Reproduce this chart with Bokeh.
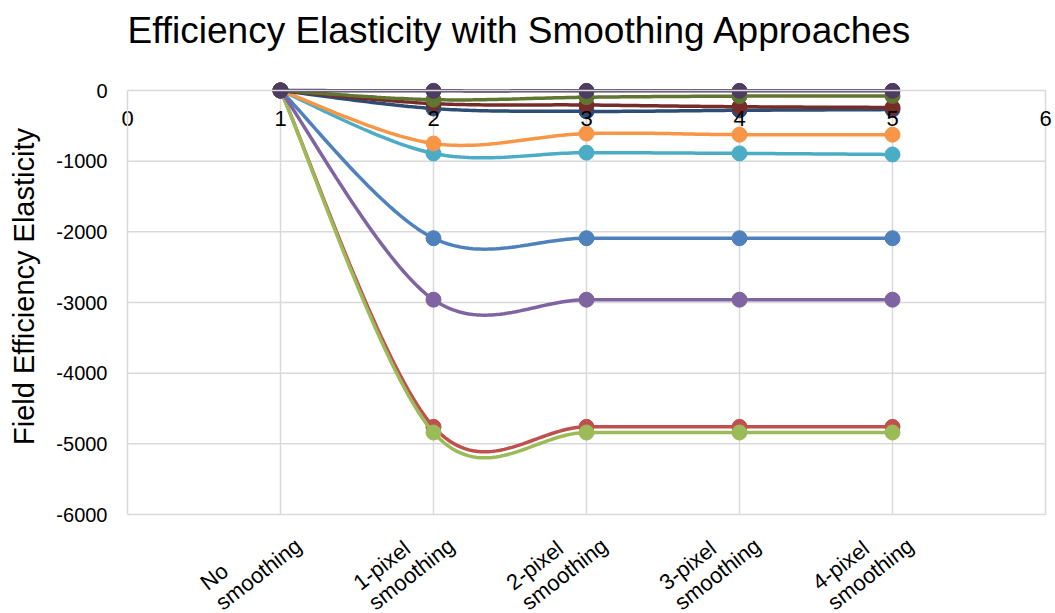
import numpy as np
from bokeh.plotting import figure
from bokeh.models import FixedTicker, Range1d
from bokeh.core.properties import value
from bokeh.embed import file_html
from bokeh.resources import INLINE

# ---------------- data ----------------
title_text = "Efficiency Elasticity with Smoothing Approaches"
y_title = "Field Efficiency Elasticity"
x_vals = [1, 2, 3, 4, 5]
categories = ["No\nsmoothing", "1-pixel\nsmoothing", "2-pixel\nsmoothing",
              "3-pixel\nsmoothing", "4-pixel\nsmoothing"]
x_ticks = [0, 1, 2, 3, 4, 5, 6]
y_ticks = [-6000, -5000, -4000, -3000, -2000, -1000, 0]
y_tick_labels = ["-6000", "-5000", "-4000", "-3000", "-2000", "-1000", "0"]

s1 = [0, -2090, -2090, -2090, -2090]
s2 = [0, -4760, -4760, -4760, -4760]
s3 = [0, -4840, -4840, -4840, -4840]
s4 = [0, -2960, -2960, -2960, -2960]
s5 = [0, -890, -880, -890, -905]
s6 = [0, -750, -610, -625, -625]
s7 = [0, -255, -295, -280, -270]
s8 = [0, -185, -205, -230, -240]
s9 = [0, -130, -95, -80, -78]
s10 = [0, -5, -5, -5, -5]

series = [s1, s2, s3, s4, s5, s6, s7, s8, s9, s10]
colors = ["#4F81BD", "#C0504D", "#9BBB59", "#8064A2", "#4BACC6",
          "#F79646", "#2C4D75", "#772C2A", "#5F7530", "#4D3B62"]


def smooth(xs, ys, n=40):
    """Catmull-Rom style bezier smoothing (spreadsheet 'smoothed line')."""
    P = np.column_stack([xs, ys]).astype(float)
    outx, outy = [P[0, 0]], [P[0, 1]]
    t = np.linspace(0, 1, n)[1:]
    for i in range(len(P) - 1):
        p0 = P[i - 1] if i > 0 else P[i]
        p1 = P[i]
        p2 = P[i + 1]
        p3 = P[i + 2] if i + 2 < len(P) else P[i + 1]
        c1 = p1 + (p2 - p0) / 6.0
        c2 = p2 - (p3 - p1) / 6.0
        for tt in t:
            b = ((1 - tt) ** 3) * p1 + 3 * ((1 - tt) ** 2) * tt * c1 + \
                3 * (1 - tt) * tt ** 2 * c2 + tt ** 3 * p2
            outx.append(b[0])
            outy.append(b[1])
    return outx, outy


FONT = "Liberation Sans"
GRID = "#D9D9D9"
W, H = 1055, 613
# plot area in the page: x 0..6 -> px 127..1045, y 0..-6000 -> px 90..514
px_per_x = (1045 - 127) / 6.0
px_per_y = (514 - 90) / 6000.0
x_range = Range1d(-127 / px_per_x, (W - 127) / px_per_x)
y_range = Range1d(-(H - 90) / px_per_y, 90 / px_per_y)

p = figure(width=W, height=H, output_backend="svg", toolbar_location=None,
           x_range=x_range, y_range=y_range, title=None,
           min_border_left=0, min_border_right=0, min_border_top=0,
           min_border_bottom=0)
p.outline_line_color = None
p.xgrid.visible = False
p.ygrid.visible = False

# grid lines (only inside 0..6 / -6000..0)
p.segment(x0=[x_ticks[0]] * 6, y0=y_ticks[:-1], x1=[x_ticks[-1]] * 6, y1=y_ticks[:-1],
          line_color=GRID, line_width=1.5)
p.segment(x0=x_ticks[1:], y0=[y_ticks[0]] * 6, x1=x_ticks[1:], y1=[y_ticks[-1]] * 6,
          line_color=GRID, line_width=1.5)

# y axis at x = 0
p.yaxis.fixed_location = 0
p.yaxis.ticker = FixedTicker(ticks=y_ticks)
p.yaxis.major_label_overrides = {t: s for t, s in zip(y_ticks, y_tick_labels)}
p.yaxis.bounds = (y_ticks[0], y_ticks[-1])
p.yaxis.axis_line_color = GRID
p.yaxis.axis_line_width = 1.5
p.yaxis.major_tick_line_color = None
p.yaxis.minor_tick_line_color = None
p.yaxis.major_label_text_font = FONT
p.yaxis.major_label_text_font_size = "20px"
p.yaxis.major_label_text_color = "#000000"
p.yaxis.major_label_standoff = 14

# x axis crossing at y = 0
p.xaxis.fixed_location = 0
p.xaxis.ticker = FixedTicker(ticks=x_ticks)
p.xaxis.bounds = (x_ticks[0], x_ticks[-1])
p.xaxis.axis_line_color = GRID
p.xaxis.axis_line_width = 1.5
p.xaxis.major_tick_line_color = None
p.xaxis.minor_tick_line_color = None
p.xaxis.major_label_text_font = FONT
p.xaxis.major_label_text_font_size = "22px"
p.xaxis.major_label_text_color = "#000000"
p.xaxis.major_label_standoff = 14

for ys, c in zip(series, colors):
    sx, sy = smooth(x_vals, ys)
    p.line(sx, sy, line_color=c, line_width=3.5)
    p.scatter(x_vals, ys, size=15, fill_color=c, line_color=c)

# chart title
p.text(x=[x_ticks[0]], y=[y_ticks[-1]], text=[title_text], x_offset=0, y_offset=-60,
       text_align="left", text_baseline="alphabetic", text_font=value(FONT),
       text_font_size="37px", text_color="#000000")

# y axis title (rotated)
p.text(x=[x_ticks[0]], y=[(y_ticks[0] + y_ticks[-1]) / 2], text=[y_title],
       x_offset=-104, y_offset=-16, angle=np.pi / 2, text_align="center",
       text_baseline="middle", text_font=value(FONT), text_font_size="29px",
       text_color="#000000")

# rotated category labels under the plot area
p.text(x=x_vals, y=[y_ticks[0]] * len(x_vals), text=categories,
       x_offset=-85, y_offset=61, angle=0.66, text_align="left",
       text_baseline="top", text_font=value(FONT), text_font_size="22px",
       text_color="#000000", text_line_height=1.0)

open("out.html", "w").write(file_html(p, INLINE))
